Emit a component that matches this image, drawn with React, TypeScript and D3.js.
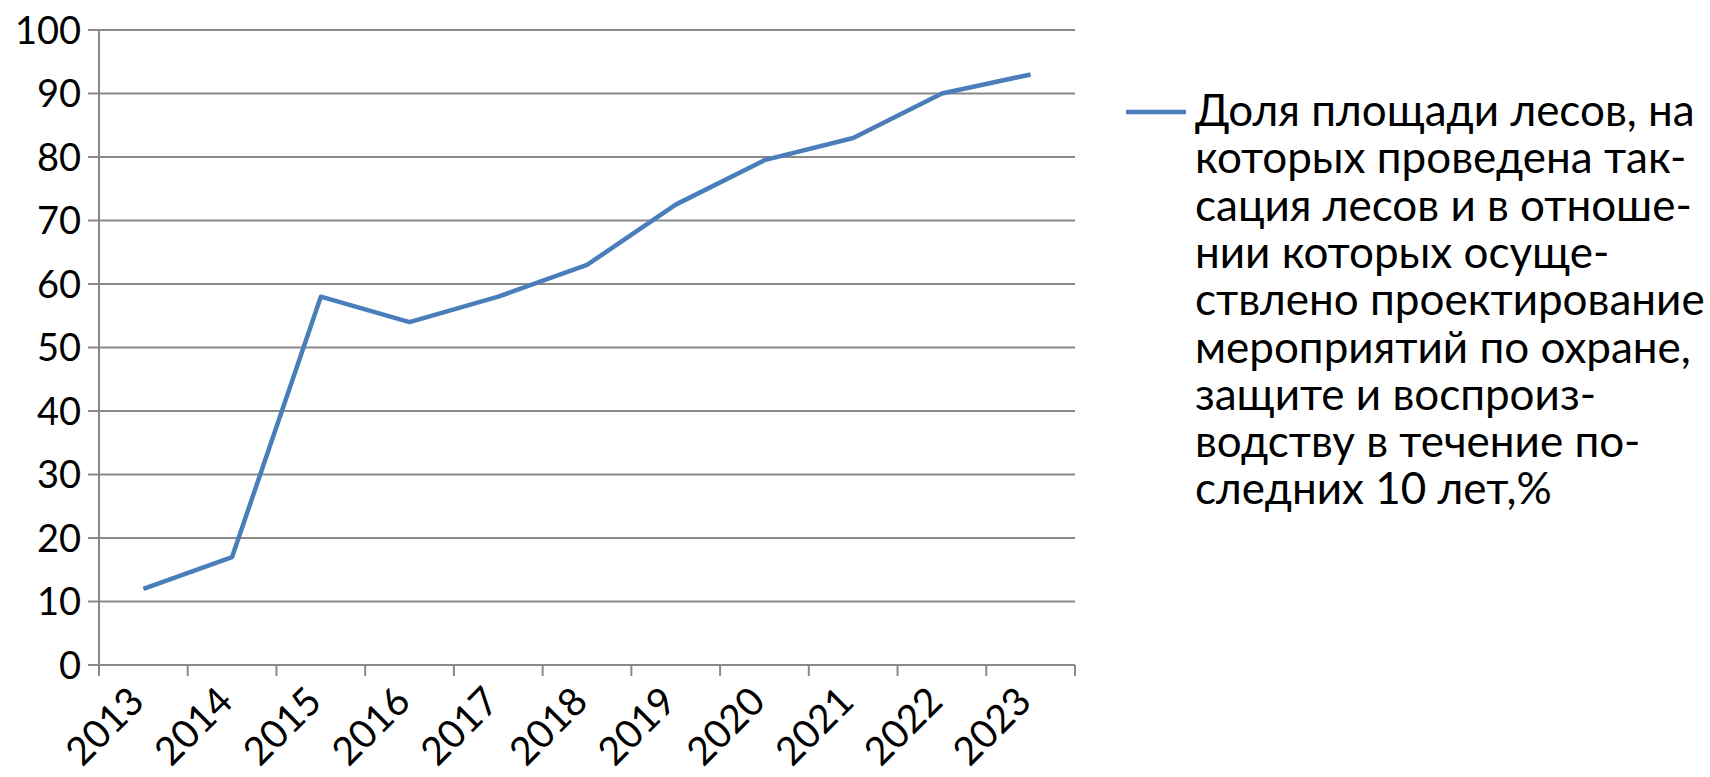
import React from "react";
import * as d3 from "d3";

const years = ["2013", "2014", "2015", "2016", "2017", "2018", "2019", "2020", "2021", "2022", "2023"];
const values = [12, 17, 58, 54, 58, 63, 72.5, 79.5, 83, 90, 93];
const yTicks = [0, 10, 20, 30, 40, 50, 60, 70, 80, 90, 100];
const legendLines = [
  "Доля площади лесов, на",
  "которых проведена так-",
  "сация лесов и в отноше-",
  "нии которых осуще-",
  "ствлено проектирование",
  "мероприятий по охране,",
  "защите и воспроиз-",
  "водству в течение по-",
  "следних 10 лет,%",
];

export default function App() {
  const W = 1710, H = 777;
  const left = 99, right = 1075, top = 30, bottom = 665;
  const x = d3.scaleBand().domain(years).range([left, right]);
  const y = d3.scaleLinear().domain([0, 100]).range([bottom, top]);
  const line = d3.line<number>().x((_, i) => x(years[i])! + x.bandwidth() / 2).y((d) => y(d));
  const font = "Lato, 'Open Sans', sans-serif";
  const grid = "#898989";
  const tickXs = years.map((yr) => x(yr)!).concat([right]);
  return (
    <svg width={W} height={H} style={{ position: "absolute", left: 0, top: 0, background: "#fff" }}>
      {yTicks.map((t) => (
        <g key={t}>
          <line x1={left - 11} x2={right} y1={y(t)} y2={y(t)} stroke={grid} strokeWidth={2} />
          <text x={left - 18} y={y(t)} dy="0.36em" textAnchor="end" fontFamily={font} fontSize={38} fill="#000">
            {t}
          </text>
        </g>
      ))}
      <line x1={left} x2={left} y1={top} y2={bottom} stroke={grid} strokeWidth={2} />
      {tickXs.map((tx, i) => (
        <line key={i} x1={tx} x2={tx} y1={bottom} y2={bottom + 11} stroke={grid} strokeWidth={2} />
      ))}
      {years.map((yr) => {
        const cx = x(yr)! + x.bandwidth() / 2;
        return (
          <text
            key={yr}
            transform={`translate(${cx - 17},${bottom + 19}) rotate(-45)`}
            textAnchor="end"
            dy="0.72em"
            fontFamily={font}
            fontSize={39}
            fill="#000"
          >
            {yr}
          </text>
        );
      })}
      <path d={line(values)!} fill="none" stroke="#4a7ebb" strokeWidth={4.5} strokeLinejoin="round" />
      <line x1={1126} x2={1186} y1={112} y2={112} stroke="#4a7ebb" strokeWidth={4.5} />
      {legendLines.map((l, i) => (
        <text key={i} x={1195} y={126 + i * 47.3} fontFamily={font} fontSize={44} fill="#000">
          {l}
        </text>
      ))}
    </svg>
  );
}
